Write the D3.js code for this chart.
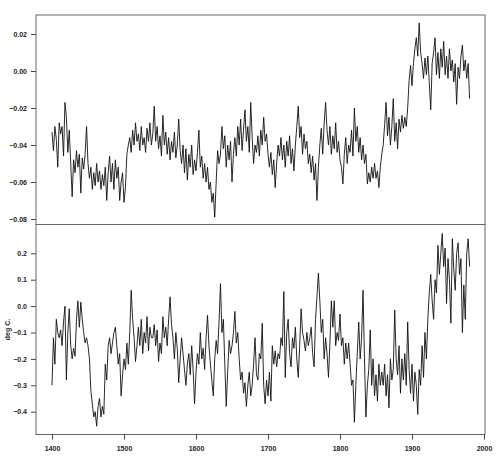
<!DOCTYPE html>
<html><head><meta charset="utf-8">
<script src="https://cdn.jsdelivr.net/npm/d3@7"></script>
<style>body{margin:0;background:#fff}svg{display:block}</style>
</head><body>
<svg id="c" width="500" height="470"></svg>
<script>
// Years sampled every 2 years, 1400-1980
const startYear = 1400, stepYears = 2;

// Top series (upper panel)
const topSeries = [
-0.033,-0.043,-0.030,-0.037,-0.052, -0.028,-0.034,-0.030,-0.046,-0.017,
-0.025,-0.044,-0.032,-0.050,-0.068, -0.048,-0.055,-0.043,-0.052,-0.045,
-0.066,-0.047,-0.053,-0.045,-0.030, -0.050,-0.058,-0.052,-0.064,-0.055,
-0.062,-0.050,-0.060,-0.054,-0.064, -0.056,-0.062,-0.052,-0.070,-0.055,
-0.046,-0.060,-0.050,-0.064,-0.048, -0.058,-0.052,-0.070,-0.060,-0.055,
-0.071,-0.063,-0.045,-0.040,-0.036, -0.044,-0.032,-0.040,-0.028,-0.038,
-0.034,-0.043,-0.030,-0.040,-0.036, -0.044,-0.031,-0.038,-0.028,-0.040,
-0.034,-0.019,-0.038,-0.030,-0.042, -0.035,-0.046,-0.024,-0.040,-0.033,
-0.045,-0.036,-0.048,-0.038,-0.044, -0.033,-0.047,-0.040,-0.026,-0.043,
-0.050,-0.040,-0.055,-0.042,-0.059, -0.045,-0.052,-0.040,-0.056,-0.048,
-0.054,-0.044,-0.032,-0.052,-0.046, -0.058,-0.050,-0.060,-0.052,-0.064,
-0.060,-0.071,-0.066,-0.079,-0.060, -0.043,-0.050,-0.045,-0.030,-0.042,
-0.035,-0.052,-0.040,-0.048,-0.038, -0.060,-0.045,-0.036,-0.046,-0.030,
-0.040,-0.026,-0.043,-0.032,-0.021, -0.038,-0.030,-0.044,-0.017,-0.036,
-0.050,-0.040,-0.044,-0.035,-0.046, -0.032,-0.040,-0.025,-0.038,-0.034,
-0.045,-0.052,-0.044,-0.056,-0.048, -0.063,-0.050,-0.040,-0.046,-0.036,
-0.048,-0.040,-0.052,-0.038,-0.046, -0.035,-0.050,-0.042,-0.054,-0.040,
-0.030,-0.019,-0.036,-0.030,-0.045, -0.034,-0.042,-0.038,-0.050,-0.045,
-0.055,-0.046,-0.059,-0.050,-0.070, -0.052,-0.040,-0.031,-0.045,-0.028,
-0.017,-0.032,-0.040,-0.030,-0.045, -0.035,-0.042,-0.028,-0.044,-0.038,
-0.048,-0.052,-0.061,-0.045,-0.036, -0.050,-0.040,-0.044,-0.032,-0.046,
-0.020,-0.038,-0.030,-0.044,-0.036, -0.048,-0.040,-0.050,-0.045,-0.061,
-0.055,-0.060,-0.052,-0.058,-0.050, -0.058,-0.054,-0.063,-0.052,-0.045,
-0.040,-0.029,-0.017,-0.035,-0.025, -0.040,-0.030,-0.015,-0.038,-0.028,
-0.042,-0.026,-0.033,-0.024,-0.031, -0.025,-0.030,-0.020,-0.005,0.003,
-0.008,0.004,0.012,0.018,0.008, 0.026,0.010,0.004,-0.004,0.007,
-0.002,0.008,-0.006,-0.021,0.004, 0.010,0.018,-0.002,0.010,-0.004,
0.012,0.002,0.016,-0.002,0.008, -0.004,0.012,0.000,0.006,-0.006,
0.004,-0.018,0.002,-0.004,0.008, 0.014,0.000,0.006,-0.004,0.004,
-0.015
];

// Bottom series (lower panel, deg C.)
const bottomSeries = [
-0.30,-0.12,-0.22,-0.05,-0.10, -0.12,-0.09,-0.15,-0.06,0.00,
-0.28,-0.10,-0.01,-0.15,-0.20, -0.16,-0.19,-0.05,0.02,-0.08,
0.015,-0.05,-0.10,-0.14,-0.12, -0.15,-0.20,-0.32,-0.37,-0.42,
-0.40,-0.455,-0.38,-0.35,-0.42, -0.38,-0.41,-0.22,-0.28,-0.15,
-0.12,-0.18,-0.14,-0.10,-0.08, -0.15,-0.22,-0.18,-0.34,-0.26,
-0.20,-0.24,-0.14,-0.22,-0.10, 0.06,-0.05,-0.12,-0.21,-0.15,
-0.08,-0.15,-0.05,-0.18,-0.10, -0.14,-0.04,-0.17,-0.08,-0.12,
-0.12,-0.07,-0.15,-0.09,-0.21, -0.14,-0.18,-0.04,-0.12,-0.08,
-0.15,-0.05,0.035,-0.07,-0.12, -0.20,-0.10,-0.16,-0.29,-0.20,
-0.12,-0.18,-0.24,-0.30,-0.22, -0.18,-0.26,-0.15,-0.24,-0.37,
-0.25,-0.18,-0.22,-0.10,-0.20, -0.16,-0.24,-0.12,-0.035,-0.15,
-0.22,-0.28,-0.34,-0.20,-0.13, -0.18,-0.06,0.085,-0.10,-0.05,
-0.22,-0.38,-0.25,-0.13,-0.18, -0.15,-0.10,-0.02,-0.14,-0.10,
-0.20,-0.28,-0.25,-0.33,-0.29, -0.38,-0.30,-0.25,-0.34,-0.30,
-0.22,-0.12,-0.26,-0.28,-0.18, -0.20,-0.065,-0.30,-0.37,-0.28,
-0.34,-0.25,-0.36,-0.15,-0.22, -0.17,-0.23,-0.18,-0.20,-0.12,
-0.15,0.055,-0.27,-0.10,-0.05, -0.18,-0.23,-0.12,-0.16,-0.08,
-0.20,-0.27,-0.15,-0.01,-0.10, -0.13,-0.17,-0.10,-0.15,-0.12,
-0.08,-0.18,-0.23,-0.05,0.035, 0.125,0.02,-0.10,-0.05,-0.20,
-0.12,-0.18,-0.27,-0.14,0.02, -0.08,0.02,-0.15,-0.10,-0.13,
-0.03,-0.15,-0.12,-0.22,-0.14, -0.20,-0.14,-0.22,-0.30,-0.28,
-0.44,-0.30,-0.18,-0.06,-0.20, -0.12,0.06,-0.20,-0.42,-0.30,
-0.24,-0.09,-0.30,-0.20,-0.34, -0.26,-0.36,-0.22,-0.30,-0.25,
-0.30,-0.22,-0.34,-0.26,-0.385, -0.20,-0.28,-0.24,-0.015,-0.20,
-0.26,-0.15,-0.33,-0.20,-0.28, -0.18,-0.30,-0.06,-0.24,-0.33,
-0.22,-0.36,-0.25,-0.30,-0.41, -0.24,-0.30,-0.15,-0.27,-0.10,
-0.20,-0.05,0.05,0.12,0.02, -0.05,0.10,0.05,0.23,0.12,
0.20,0.275,0.15,0.22,0.01, 0.18,0.10,-0.065,0.255,0.14,
0.06,0.20,0.24,0.12,0.18, -0.10,0.08,-0.05,0.20,0.255,
0.15
];

const xTicks = [1400, 1500, 1600, 1700, 1800, 1900, 2000];
const topTicks = [0.02, 0.00, -0.02, -0.04, -0.06, -0.08];
const bottomTicks = [0.2, 0.1, 0.0, -0.1, -0.2, -0.3, -0.4];
const yLabel = "deg C.";

const svg = d3.select("#c");
const L = 36, R = 485, T = 15, MID = 224.5, B = 434.5;

const x = d3.scaleLinear().domain([1400, 2000]).range([52, 484]);
const yTop = d3.scaleLinear().domain([-0.08, 0.02]).range([219, 34]);
const yBot = d3.scaleLinear().domain([-0.4, 0.2]).range([411.7, 253.3]);

const years = topSeries.map((_, i) => startYear + i * stepYears);
const fontCss = "font-family:'Liberation Sans',Arial,sans-serif;font-size:7px;font-weight:bold";

function panel(data, y, ticks, fmt) {
  const line = d3.line().x((d, i) => x(years[i])).y(d => y(d));
  svg.append("path").datum(data).attr("d", line)
    .attr("fill", "none").attr("stroke", "#111").attr("stroke-width", 0.9)
    .attr("stroke-linejoin", "miter");
  const ax = svg.append("g").attr("transform", `translate(${L},0)`)
    .call(d3.axisLeft(y).tickValues(ticks).tickFormat(fmt).tickSize(5).tickPadding(4));
  ax.select(".domain").remove();
  ax.selectAll("line").attr("stroke", "#444");
  ax.selectAll("text").attr("style", fontCss).attr("fill", "#222");
}

panel(topSeries, yTop, topTicks, d3.format(".2f"));
panel(bottomSeries, yBot, bottomTicks, d3.format(".1f"));

// frames
svg.append("rect").attr("x", L).attr("y", T).attr("width", R - L).attr("height", MID - T)
  .attr("fill", "none").attr("stroke", "#666").attr("stroke-width", 1);
svg.append("rect").attr("x", L).attr("y", MID).attr("width", R - L).attr("height", B - MID)
  .attr("fill", "none").attr("stroke", "#666").attr("stroke-width", 1);

const xa = svg.append("g").attr("transform", `translate(0,${B})`)
  .call(d3.axisBottom(x).tickValues(xTicks).tickFormat(d3.format("d")).tickSize(5).tickPadding(7));
xa.select(".domain").remove();
xa.selectAll("line").attr("stroke", "#444");
xa.selectAll("text").attr("style", fontCss).attr("fill", "#222");

svg.append("text").attr("transform", `translate(10,${(MID + B) / 2}) rotate(-90)`)
  .attr("text-anchor", "middle").attr("style", fontCss).attr("fill", "#222").text(yLabel);
</script>
</body></html>
